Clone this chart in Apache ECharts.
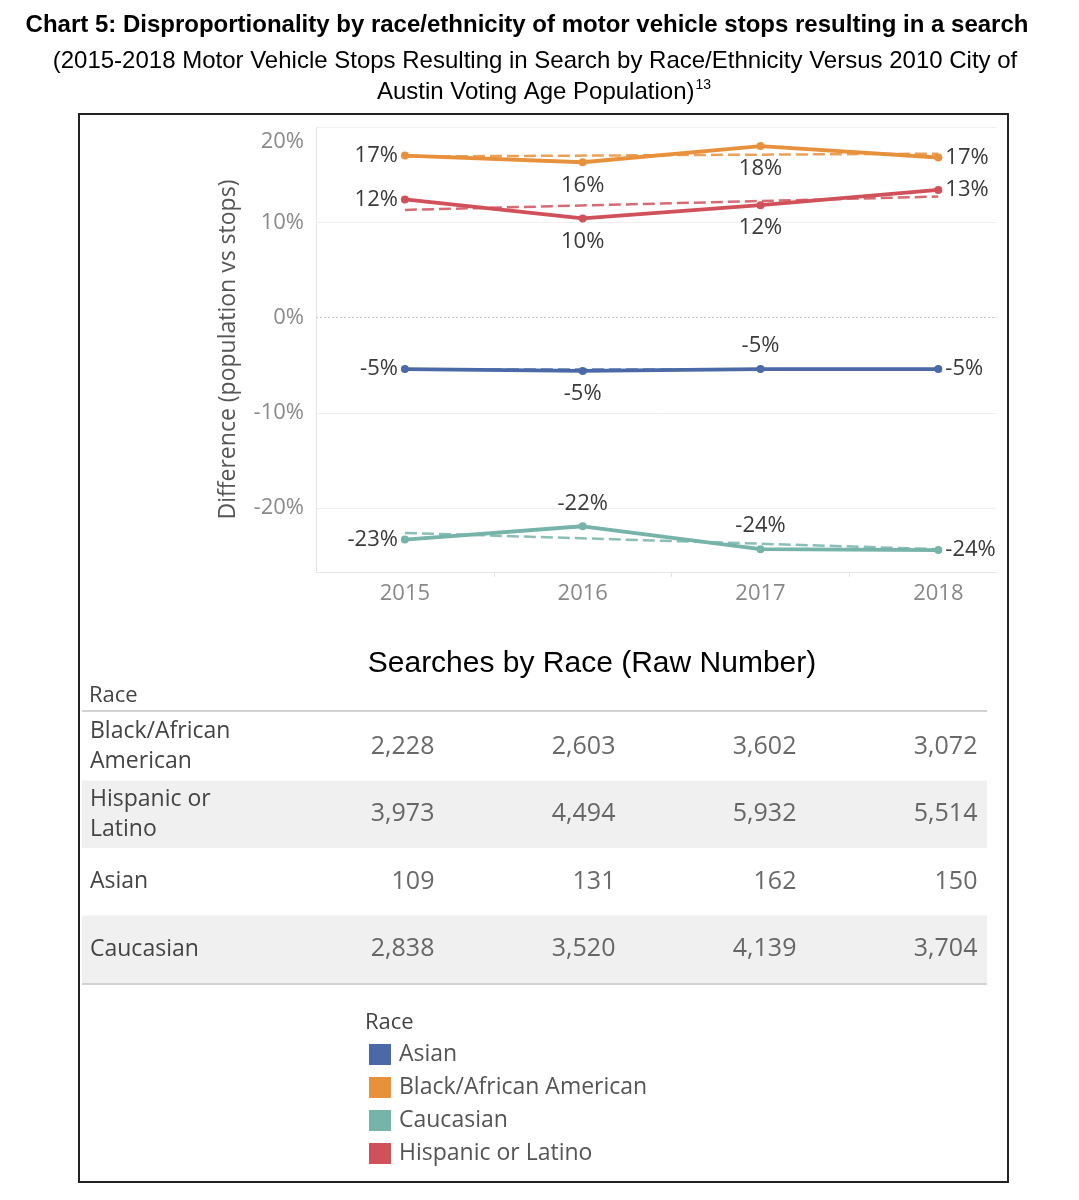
<!DOCTYPE html>
<html><head><meta charset="utf-8">
<script src="https://cdn.jsdelivr.net/npm/echarts@6/dist/echarts.min.js"></script>
<style>html,body{margin:0;padding:0;background:#fff}#c{width:1079px;height:1200px}</style>
</head><body><div id="c"></div>
<script>
// ---- data ----
const years = [2015, 2016, 2017, 2018];
const races = ['Asian', 'Black/African American', 'Caucasian', 'Hispanic or Latino'];
const diffAsian = [-5.4, -5.6, -5.4, -5.4];
const diffBlack = [17.0, 16.3, 18.0, 16.8];
const diffCaucasian = [-23.3, -21.9, -24.3, -24.4];
const diffHispanic = [12.4, 10.4, 11.8, 13.4];
const diffLabelsAsian = ['-5%', '-5%', '-5%', '-5%'];
const diffLabelsBlack = ['17%', '16%', '18%', '17%'];
const diffLabelsCaucasian = ['-23%', '-22%', '-24%', '-24%'];
const diffLabelsHispanic = ['12%', '10%', '12%', '13%'];
// dashed trend lines, start (2015) and end (2018) values
const trendYears = [2015, 2018];
const trendAsian = [-5.45, -5.45];
const trendBlack = [16.9, 17.2];
const trendCaucasian = [-22.6, -24.3];
const trendHispanic = [11.3, 12.7];
const yTickValues = [-20, -10, 0, 10, 20];
const tableRows = ['Black/African\nAmerican', 'Hispanic or\nLatino', 'Asian', 'Caucasian'];
const searchesBlack = [2228, 2603, 3602, 3072];
const searchesHispanic = [3973, 4494, 5932, 5514];
const searchesAsian = [109, 131, 162, 150];
const searchesCaucasian = [2838, 3520, 4139, 3704];

// ---- styles ----
const colors = {
  'Asian': '#4b69a6',
  'Black/African American': '#e8913c',
  'Caucasian': '#76b3a9',
  'Hispanic or Latino': '#d0515a'
};
const labelPositions = {
  'Asian': ['left', 'bottom', 'top', 'right'],
  'Black/African American': ['left', 'bottom', 'bottom', 'right'],
  'Caucasian': ['left', 'top', 'top', 'right'],
  'Hispanic or Latino': ['left', 'bottom', 'bottom', 'right']
};
const FONT = 'Open Sans';

const diffByRace = {
  'Asian': [diffAsian, diffLabelsAsian, trendAsian],
  'Black/African American': [diffBlack, diffLabelsBlack, trendBlack],
  'Caucasian': [diffCaucasian, diffLabelsCaucasian, trendCaucasian],
  'Hispanic or Latino': [diffHispanic, diffLabelsHispanic, trendHispanic]
};

const series = [];
races.forEach(function (r) {
  const d = diffByRace[r];
  series.push({
    name: r, type: 'line', xAxisIndex: 0, yAxisIndex: 0, z: 2,
    data: trendYears.map(function (y, i) { return [y, d[2][i]]; }),
    symbol: 'none', silent: true,
    lineStyle: { color: colors[r], width: 2.5, type: [12, 5], opacity: 0.85 },
    itemStyle: { color: colors[r] }
  });
});
races.forEach(function (r) {
  const d = diffByRace[r];
  series.push({
    name: r, type: 'line', xAxisIndex: 0, yAxisIndex: 0, z: 3,
    symbol: 'circle', symbolSize: 8,
    lineStyle: { color: colors[r], width: 3.8 },
    itemStyle: { color: colors[r] },
    data: years.map(function (y, i) {
      const pos = labelPositions[r][i];
      return {
        value: [y, d[0][i]],
        label: {
          show: true, position: pos,
          distance: (pos === 'left' || pos === 'right') ? 3 : 8,
          formatter: d[1][i]
        }
      };
    }),
    label: { fontFamily: FONT, fontSize: 22, color: '#3a3a3a' }
  });
});

// table series
const tableData = [];
const tableValues = [searchesBlack, searchesHispanic, searchesAsian, searchesCaucasian];
tableRows.forEach(function (row, ri) {
  years.forEach(function (y, yi) {
    tableData.push([y, row, tableValues[ri][yi]]);
  });
});
series.push({
  type: 'scatter', xAxisIndex: 1, yAxisIndex: 1, symbolSize: 1,
  itemStyle: { color: 'rgba(0,0,0,0)' }, silent: true,
  data: tableData,
  label: {
    show: true, position: 'left', distance: 0,
    fontFamily: FONT, fontSize: 25, color: '#444',
    formatter: function (p) { return p.value[2].toLocaleString('en-US'); }
  }
});

const option = {
  animation: false,
  backgroundColor: '#fff',
  legend: {
    data: races, orient: 'vertical', left: 369, top: 1043,
    icon: 'rect', itemWidth: 22, itemHeight: 21, itemGap: 10, padding: 0,
    selectedMode: false,
    textStyle: { fontFamily: FONT, fontSize: 23, color: '#555', padding: [0, 0, 0, 3] }
  },
  grid: [
    { left: 316, right: 82, top: 127, bottom: 628 },
    { left: 82, right: 92, top: 713, height: 270 }
  ],
  xAxis: [
    {
      type: 'value', gridIndex: 0, min: 2014.5, max: 2018.33,
      axisLine: { show: true, onZero: false, lineStyle: { color: '#e4e4e4', width: 1 } },
      axisTick: { show: true, customValues: [2015.5, 2016.5, 2017.5], length: 5, lineStyle: { color: '#e0e0e0' } },
      axisLabel: { customValues: years, formatter: function (v) { return String(v); }, fontFamily: FONT, fontSize: 22, color: '#888', margin: 11 },
      splitLine: { show: false }
    },
    { type: 'value', gridIndex: 1, min: 2013.05, max: 2018.05, show: false }
  ],
  yAxis: [
    {
      type: 'value', gridIndex: 0, min: -26.7, max: 20,
      name: 'Difference (population vs stops)', nameLocation: 'middle', nameGap: 76,
      nameTextStyle: { fontFamily: FONT, fontSize: 23, color: '#555' },
      axisLine: { show: true, lineStyle: { color: '#e4e4e4', width: 1 } },
      axisTick: { show: false, customValues: [-20, -10, 10, 20] },
      axisLabel: {
        customValues: yTickValues, fontFamily: FONT, fontSize: 22, color: '#8a8a8a', margin: 12,
        formatter: function (v) { return v === 20 ? '{t|' + v + '%}' : v + '%'; },
        rich: { t: { fontFamily: FONT, fontSize: 22, color: '#8a8a8a', padding: [30, 0, 0, 0] } }
      },
      splitLine: { show: true, lineStyle: { color: '#efefef', width: 1 } }
    },
    {
      type: 'category', gridIndex: 1, data: tableRows, inverse: true,
      axisLine: { show: false }, axisTick: { show: false },
      axisLabel: { align: 'left', margin: -8, fontFamily: FONT, fontSize: 23, lineHeight: 30, color: '#444' },
      splitArea: { show: true, areaStyle: { color: ['#ffffff', '#f0f0f0'] } },
      splitLine: { show: false }
    }
  ],
  series: series.concat([{
    type: 'line', xAxisIndex: 0, yAxisIndex: 0, data: [], silent: true,
    markLine: {
      silent: true, symbol: 'none', label: { show: false },
      lineStyle: { color: '#c4c4c4', type: [2, 2], width: 1 },
      data: [{ yAxis: 0 }]
    }
  }]),
  graphic: [
    { type: 'rect', shape: { x: 79, y: 114, width: 929, height: 1068 }, style: { fill: 'none', stroke: '#222', lineWidth: 2 }, z: 10 },
    { type: 'text', x: 527, y: 25, style: { text: 'Chart 5: Disproportionality by race/ethnicity of motor vehicle stops resulting in a search', fontFamily: 'Liberation Sans', fontWeight: 'bold', fontSize: 24, fill: '#000', align: 'center', verticalAlign: 'middle' } },
    { type: 'text', x: 535, y: 61, style: { text: '(2015-2018 Motor Vehicle Stops Resulting in Search by Race/Ethnicity Versus 2010 City of', fontFamily: 'Liberation Sans', fontSize: 24, fill: '#000', align: 'center', verticalAlign: 'middle' } },
    { type: 'text', x: 544, y: 92, style: {
      text: '{n|Austin Voting Age Population)}{s|13}', align: 'center', verticalAlign: 'middle',
      rich: { n: { fontFamily: 'Liberation Sans', fontSize: 24, color: '#000' }, s: { fontFamily: 'Liberation Sans', fontSize: 14, color: '#000', padding: [0, 0, 14, 1] } } } },
    { type: 'text', x: 592, y: 664, style: { text: 'Searches by Race (Raw Number)', fontFamily: 'Liberation Sans', fontSize: 30, fill: '#000', align: 'center', verticalAlign: 'middle' } },
    { type: 'text', x: 89, y: 696, style: { text: 'Race', fontFamily: FONT, fontSize: 22, fill: '#444', align: 'left', verticalAlign: 'middle' } },
    { type: 'line', shape: { x1: 82, y1: 711, x2: 987, y2: 711 }, style: { stroke: '#d2d2d2', lineWidth: 2 } },
    { type: 'line', shape: { x1: 82, y1: 984, x2: 987, y2: 984 }, style: { stroke: '#d2d2d2', lineWidth: 2 } },
    { type: 'text', x: 365, y: 1023, style: { text: 'Race', fontFamily: FONT, fontSize: 22, fill: '#444', align: 'left', verticalAlign: 'middle' } }
  ]
};
const chart = echarts.init(document.getElementById('c'));
chart.setOption(option);
</script>
</body></html>
